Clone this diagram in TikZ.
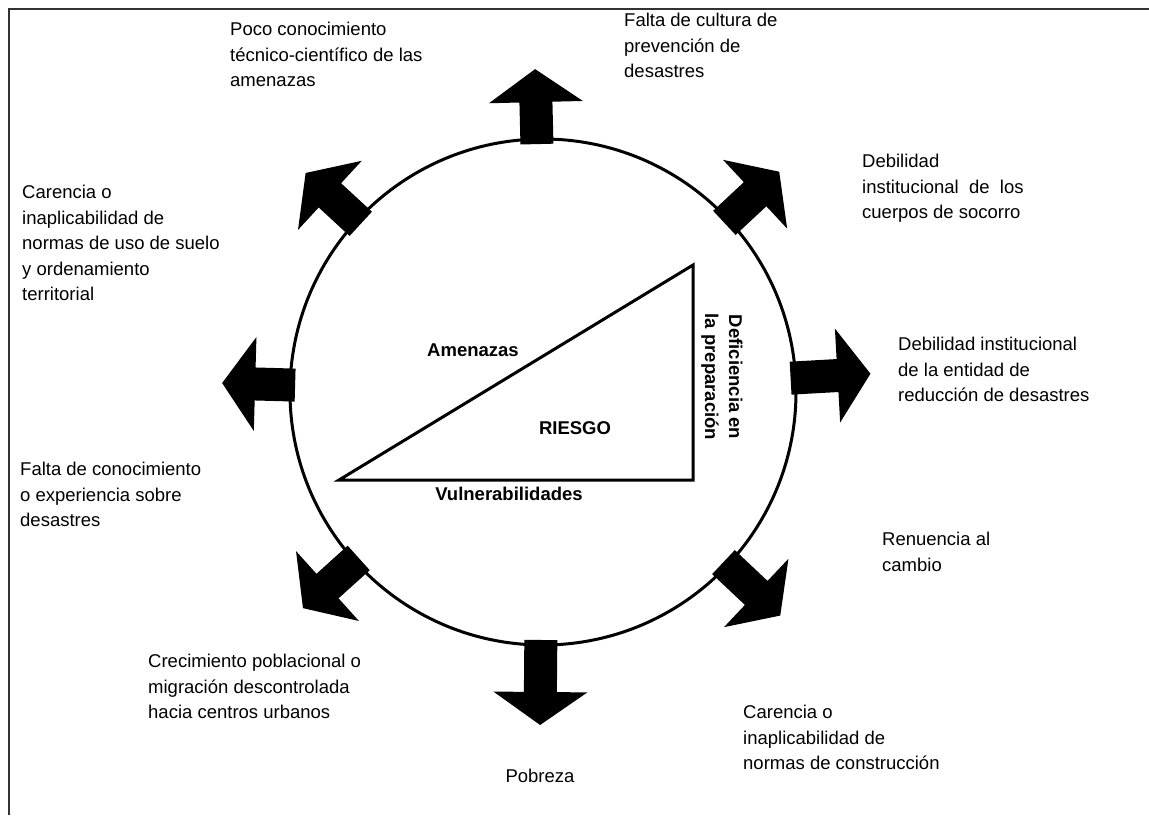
\documentclass[tikz,border=0pt]{standalone}
\usepackage{fontspec}
\setmainfont{Liberation Sans}
\usetikzlibrary{calc}
\tikzset{
  lbl/.style={anchor=north west, align=left, inner sep=0pt, font=\fontsize{18.5}{25.5}\selectfont},
  blbl/.style={inner sep=0pt, font=\fontsize{18.5}{24}\selectfont\bfseries},
  bigarrow/.style={fill=black},
  ringstyle/.style={circle, draw=black, line width=3pt, inner sep=0pt, minimum size=506pt},
  tri/.style={draw=black, line width=3pt, line join=miter},
  frameline/.style={draw=black!80, line width=1.5pt},
}
\newcommand\radarrow[2]{%
  \begin{scope}[shift={(C)}, rotate=#1]
    \fill[bigarrow] (248,-16.5) -- (#2,-16.5) -- (#2,-47) -- ({#2+33},0) -- (#2,47) -- (#2,16.5) -- (248,16.5) -- cycle;
  \end{scope}}
\begin{document}
\begin{tikzpicture}[x=1pt,y=-1pt]
  \useasboundingbox (0,0) rectangle (1149,815);
  \fill[white] (0,0) rectangle (1149,815);
  % frame
  \coordinate (f1) at (9,815);
  \coordinate (f2) at (9,9);
  \coordinate (f3) at (1149,9);
  \draw[frameline] (f1) -- (f2) -- (f3);
  % centre
  \coordinate (C) at (543,392);
  % arrows
  \radarrow{91.4}{290}
  \radarrow{43}{290}
  \radarrow{3.2}{295}
  \radarrow{-43.3}{293}
  \radarrow{-90.5}{300}
  \radarrow{-138}{290}
  \radarrow{178.4}{288}
  \radarrow{137.3}{290}
  % circle
  \node (ring) [ringstyle] at (C) {};
  % triangle
  \coordinate (tA) at (339,480);
  \coordinate (tB) at (693,265);
  \coordinate (tC) at (693,480);
  \draw[tri] (tA) -- (tB) -- (tC) -- cycle;
  \node (amen) [blbl] at (473,350) {Amenazas};
  \node (riesgo) [blbl] at (575,428) {RIESGO};
  \node (vuln) [blbl] at (509,494) {Vulnerabilidades};
  \node (defic) [blbl, align=center, rotate=-90] at (722,377) {Deficiencia en\\la preparación};
  % labels
  \node (l1) [lbl] at (230,22) {Poco conocimiento\\técnico-científico de las\\amenazas};
  \node (l2) [lbl] at (624,13) {Falta de cultura de\\prevención de\\desastres};
  \node (l3) [lbl] at (862,154) {Debilidad\\institucional\ \ de\ \ los\\cuerpos de socorro};
  \node (l4) [lbl] at (22,185) {Carencia o\\inaplicabilidad de\\normas de uso de suelo\\y ordenamiento\\territorial};
  \node (l5) [lbl] at (898,337) {Debilidad institucional\\de la entidad de\\reducción de desastres};
  \node (l6) [lbl] at (20,462) {Falta de conocimiento\\o experiencia sobre\\desastres};
  \node (l7) [lbl] at (882,532) {Renuencia al\\cambio};
  \node (l8) [lbl] at (148,654) {Crecimiento poblacional o\\migración descontrolada\\hacia centros urbanos};
  \node (l9) [lbl] at (743,705) {Carencia o\\inaplicabilidad de\\normas de construcción};
  \node (l10) [inner sep=0pt, font=\fontsize{18.5}{25.5}\selectfont] at (540,776) {Pobreza};
\end{tikzpicture}
\end{document}
